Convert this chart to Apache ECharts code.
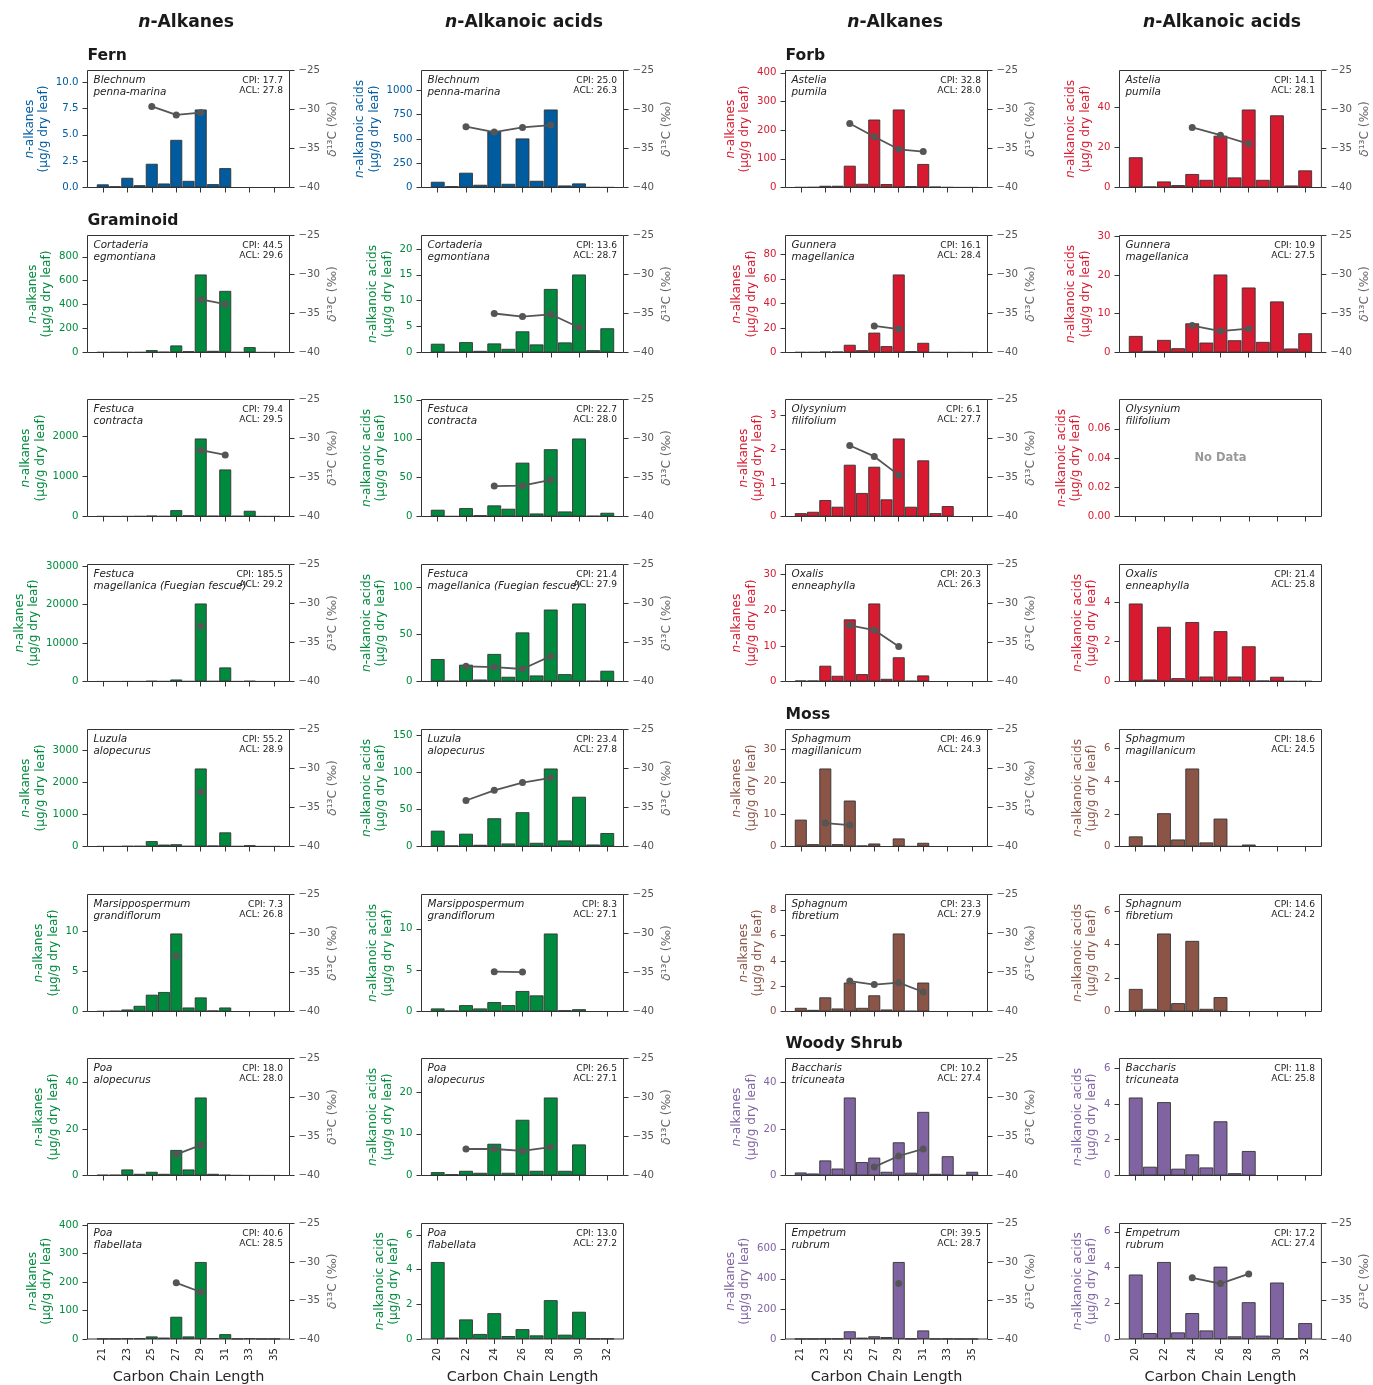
<!DOCTYPE html>
<html>
<head>
<meta charset="utf-8">
<script src="https://cdn.jsdelivr.net/npm/echarts@6/dist/echarts.min.js"></script>
<style>
  html, body { margin: 0; padding: 0; background: #fff; }
  #chart { width: 1373px; height: 1385px; }
</style>
</head>
<body>
<div id="chart"></div>
<script>
// ---------------------------------------------------------------------------
// Carbon numbers and x tick labels
// ---------------------------------------------------------------------------
const N = null;
const alkaneChains = [21, 22, 23, 24, 25, 26, 27, 28, 29, 30, 31, 32, 33, 34, 35];
const acidChains = [20, 21, 22, 23, 24, 25, 26, 27, 28, 29, 30, 31, 32];
const alkaneTickLabels = [21, 23, 25, 27, 29, 31, 33, 35];
const acidTickLabels = [20, 22, 24, 26, 28, 30, 32];

// ---------------------------------------------------------------------------
// n-alkane concentrations (µg/g dry leaf), C21..C35, and δ13C (‰)
// ---------------------------------------------------------------------------
const blechnumAlk = [0.30, 0.12, 0.92, 0.22, 2.25, 0.38, 4.52, 0.63, 7.40, 0.32, 1.84, 0, 0, 0, 0];
const blechnumAlkD13C = [N, N, N, N, -29.6, N, -30.7, N, -30.4, N, N, N, N, N, N];
const cortaderiaAlk = [3, 3, 3, 3, 20, 6, 59, 11, 652, 14, 515, 3, 45, 2, 2];
const cortaderiaAlkD13C = [N, N, N, N, N, N, N, N, -33.2, N, -33.8, N, N, N, N];
const festucaConAlk = [5, 3, 5, 8, 20, 10, 158, 30, 1935, 18, 1167, 15, 142, 5, 5];
const festucaConAlkD13C = [N, N, N, N, N, N, N, N, -31.5, N, -32.1, N, N, N, N];
const festucaMagAlk = [20, 20, 40, 30, 150, 60, 520, 80, 20300, 100, 3660, 40, 150, 20, 20];
const festucaMagAlkD13C = [N, N, N, N, N, N, N, N, -32.9, N, N, N, N, N, N];
const luzulaAlk = [5, 5, 15, 15, 167, 60, 70, 15, 2425, 30, 440, 10, 40, 5, 5];
const luzulaAlkD13C = [N, N, N, N, N, N, N, N, -33.0, N, N, N, N, N, N];
const marsipAlk = [0.04, 0.08, 0.25, 0.71, 2.10, 2.44, 9.75, 0.50, 1.76, 0.13, 0.50, 0, 0, 0, 0];
const marsipAlkD13C = [N, N, N, N, N, N, -32.9, N, N, N, N, N, N, N, N];
const poaAloAlk = [0.29, 0.29, 2.6, 0.72, 1.6, 0.72, 11.0, 2.6, 33.6, 0.72, 0.29, 0.1, 0.05, 0.05, 0.05];
const poaAloAlkD13C = [N, N, N, N, N, N, -37.3, N, -36.1, N, N, N, N, N, N];
const poaFlaAlk = [1, 1, 2, 2, 9, 5, 78, 9, 270, 3, 17, 1, 2, 0.5, 0.5];
const poaFlaAlkD13C = [N, N, N, N, N, N, -32.7, N, -33.9, N, N, N, N, N, N];
const asteliaAlk = [1, 1.5, 6, 6, 76, 13, 237, 12, 272, 5, 82, 3, 1, 0.5, 0.5];
const asteliaAlkD13C = [N, N, N, N, -31.8, N, -33.5, N, -35.1, N, -35.4, N, N, N, N];
const gunneraAlk = [0.3, 0.3, 0.8, 0.8, 6.3, 1.9, 16.2, 5.2, 63.6, 1.1, 7.9, 0.3, 0.2, 0.2, 0.2];
const gunneraAlkD13C = [N, N, N, N, N, N, -36.6, N, -37.0, N, N, N, N, N, N];
const olysyniumAlk = [0.10, 0.14, 0.49, 0.29, 1.54, 0.70, 1.48, 0.51, 2.32, 0.29, 1.67, 0.10, 0.31, 0, 0];
const olysyniumAlkD13C = [N, N, N, N, -30.9, N, -32.3, N, -34.7, N, N, N, N, N, N];
const oxalisAlk = [0.28, 0.28, 4.43, 1.6, 17.45, 2.08, 21.9, 0.75, 6.8, 0.19, 1.7, 0, 0, 0, 0];
const oxalisAlkD13C = [N, N, N, N, -32.8, N, -33.4, N, -35.5, N, N, N, N, N, N];
const sphagmumAlk = [8.3, 0.73, 24.1, 0.73, 14.2, 0.31, 0.93, 0, 2.49, 0.05, 1.14, 0, 0, 0, 0];
const sphagmumAlkD13C = [N, N, -37.0, N, -37.25, N, N, N, N, N, N, N, N, N, N];
const sphagnumAlk = [0.29, 0.13, 1.12, 0.24, 2.29, 0.29, 1.28, 0.16, 6.17, 0.05, 2.29, 0, 0, 0, 0];
const sphagnumAlkD13C = [N, N, N, N, -36.1, N, -36.55, N, -36.3, N, -37.5, N, N, N, N];
const baccharisAlk = [1.3, 0.87, 6.5, 3.0, 33.6, 5.8, 7.7, 1.6, 14.3, 1.2, 27.4, 0.72, 8.3, 0.14, 1.6];
const baccharisAlkD13C = [N, N, N, N, N, N, -38.9, N, -37.5, N, -36.6, N, N, N, N];
const empetrumAlk = [0.5, 0.5, 2, 2, 51, 9, 18, 13, 512, 2, 57, 1, 2, 0.5, 0.5];
const empetrumAlkD13C = [N, N, N, N, N, N, N, N, -32.8, N, N, N, N, N, N];

// ---------------------------------------------------------------------------
// n-alkanoic acid concentrations (µg/g dry leaf), C20..C32, and δ13C (‰)
// ---------------------------------------------------------------------------
const blechnumAcid = [59, 14, 152, 28, 578, 38, 505, 69, 803, 21, 42, 3, 2];
const blechnumAcidD13C = [N, N, -32.2, N, -32.9, N, -32.3, N, -32.0, N, N, N, N];
const cortaderiaAcid = [1.69, 0.13, 2.0, 0.32, 1.75, 0.71, 4.09, 1.56, 12.27, 1.95, 15.06, 0.45, 4.68];
const cortaderiaAcidD13C = [N, N, N, N, -35.0, N, -35.4, N, -35.1, N, -36.8, N, N];
const festucaConAcid = [8.7, 0.4, 10.8, 1.7, 14.3, 10.0, 69.3, 3.9, 86.6, 6.5, 100.4, 0.9, 4.8];
const festucaConAcidD13C = [N, N, N, N, -36.1, N, -36.05, N, -35.3, N, N, N, N];
const festucaMagAcid = [23.8, 0.7, 17.8, 2.1, 29.2, 5.0, 52.0, 6.4, 76.2, 7.8, 82.6, 0.7, 11.4];
const festucaMagAcidD13C = [N, N, -38.05, N, -38.15, N, -38.4, N, -36.75, N, N, N, N];
const luzulaAcid = [21.4, 1.4, 17.3, 2.3, 38.2, 4.1, 46.4, 5.0, 105.5, 8.2, 67.3, 2.7, 18.2];
const luzulaAcidD13C = [N, N, -34.1, N, -32.8, N, -31.8, N, -31.2, N, N, N, N];
const marsipAcid = [0.37, 0.12, 0.77, 0.37, 1.14, 0.77, 2.48, 1.95, 9.43, 0.16, 0.28, 0, 0];
const marsipAcidD13C = [N, N, N, N, -34.9, N, -34.95, N, N, N, N, N, N];
const poaAloAcid = [0.81, 0.32, 1.13, 0.65, 7.61, 0.65, 13.36, 1.13, 18.7, 1.13, 7.45, 0, 0];
const poaAloAcidD13C = [N, N, -36.6, N, -36.6, N, -36.85, N, -36.35, N, N, N, N];
const poaFlaAcid = [4.44, 0.08, 1.13, 0.29, 1.49, 0.17, 0.57, 0.21, 2.24, 0.25, 1.57, 0.02, 0.02];
const asteliaAcid = [15.0, 0.5, 3.0, 1.2, 6.7, 3.8, 25.7, 5.0, 38.7, 3.8, 35.8, 1.0, 8.5];
const asteliaAcidD13C = [N, N, N, N, -32.3, N, -33.3, N, -34.4, N, N, N, N];
const gunneraAcid = [4.27, 0.43, 3.25, 1.11, 7.52, 2.56, 20.1, 3.16, 16.75, 2.74, 13.16, 1.03, 4.96];
const gunneraAcidD13C = [N, N, N, N, -36.55, N, -37.25, N, -36.95, N, N, N, N];
const oxalisAcid = [3.92, 0.10, 2.75, 0.17, 2.99, 0.25, 2.53, 0.25, 1.77, 0.05, 0.24, 0.02, 0.02];
const sphagmumAcid = [0.62, 0.06, 2.04, 0.43, 4.78, 0.25, 1.71, 0.02, 0.12, 0, 0, 0, 0];
const sphagnumAcid = [1.35, 0.16, 4.66, 0.5, 4.22, 0.16, 0.86, 0, 0, 0, 0, 0, 0];
const baccharisAcid = [4.36, 0.49, 4.10, 0.38, 1.18, 0.45, 3.03, 0.13, 1.37, 0, 0, 0, 0];
const empetrumAcid = [3.61, 0.33, 4.31, 0.37, 1.45, 0.48, 4.05, 0.15, 2.06, 0.19, 3.16, 0.02, 0.89];
const empetrumAcidD13C = [N, N, N, N, -32.05, N, -32.8, N, -31.55, N, N, N, N];

// ---------------------------------------------------------------------------
// Left-axis tick values for each panel
// ---------------------------------------------------------------------------
const blechnumAlkTicks = [0, 2.5, 5, 7.5, 10];
const cortaderiaAlkTicks = [0, 200, 400, 600, 800];
const festucaConAlkTicks = [0, 1000, 2000];
const festucaMagAlkTicks = [0, 10000, 20000, 30000];
const luzulaAlkTicks = [0, 1000, 2000, 3000];
const marsipAlkTicks = [0, 5, 10];
const poaAloAlkTicks = [0, 20, 40];
const poaFlaAlkTicks = [0, 100, 200, 300, 400];
const blechnumAcidTicks = [0, 250, 500, 750, 1000];
const cortaderiaAcidTicks = [0, 5, 10, 15, 20];
const festucaConAcidTicks = [0, 50, 100, 150];
const festucaMagAcidTicks = [0, 50, 100];
const luzulaAcidTicks = [0, 50, 100, 150];
const marsipAcidTicks = [0, 5, 10];
const poaAloAcidTicks = [0, 10, 20];
const poaFlaAcidTicks = [0, 2, 4, 6];
const asteliaAlkTicks = [0, 100, 200, 300, 400];
const gunneraAlkTicks = [0, 20, 40, 60, 80];
const olysyniumAlkTicks = [0, 1, 2, 3];
const oxalisAlkTicks = [0, 10, 20, 30];
const sphagmumAlkTicks = [0, 10, 20, 30];
const sphagnumAlkTicks = [0, 2, 4, 6, 8];
const baccharisAlkTicks = [0, 20, 40];
const empetrumAlkTicks = [0, 200, 400, 600];
const asteliaAcidTicks = [0, 20, 40];
const gunneraAcidTicks = [0, 10, 20, 30];
const olysyniumAcidTicks = [0, 0.02, 0.04, 0.06];
const oxalisAcidTicks = [0, 2, 4];
const sphagmumAcidTicks = [0, 2, 4, 6];
const sphagnumAcidTicks = [0, 2, 4, 6];
const baccharisAcidTicks = [0, 2, 4, 6];
const empetrumAcidTicks = [0, 2, 4, 6];

// ---------------------------------------------------------------------------
// Panel table: which species, compound class and functional group
// ---------------------------------------------------------------------------
const panels = [
  // Fern / Graminoid, n-alkanes
  { col: 0, row: 0, kind: 'alk', group: 'Fern', species: 'Blechnum\npenna-marina', values: blechnumAlk, d13c: blechnumAlkD13C, ticks: blechnumAlkTicks, cpi: '17.7', acl: '27.8' },
  { col: 0, row: 1, kind: 'alk', group: 'Graminoid', species: 'Cortaderia\negmontiana', values: cortaderiaAlk, d13c: cortaderiaAlkD13C, ticks: cortaderiaAlkTicks, cpi: '44.5', acl: '29.6' },
  { col: 0, row: 2, kind: 'alk', group: 'Graminoid', species: 'Festuca\ncontracta', values: festucaConAlk, d13c: festucaConAlkD13C, ticks: festucaConAlkTicks, cpi: '79.4', acl: '29.5' },
  { col: 0, row: 3, kind: 'alk', group: 'Graminoid', species: 'Festuca\nmagellanica (Fuegian fescue)', values: festucaMagAlk, d13c: festucaMagAlkD13C, ticks: festucaMagAlkTicks, cpi: '185.5', acl: '29.2' },
  { col: 0, row: 4, kind: 'alk', group: 'Graminoid', species: 'Luzula\nalopecurus', values: luzulaAlk, d13c: luzulaAlkD13C, ticks: luzulaAlkTicks, cpi: '55.2', acl: '28.9' },
  { col: 0, row: 5, kind: 'alk', group: 'Graminoid', species: 'Marsippospermum\ngrandiflorum', values: marsipAlk, d13c: marsipAlkD13C, ticks: marsipAlkTicks, cpi: '7.3', acl: '26.8' },
  { col: 0, row: 6, kind: 'alk', group: 'Graminoid', species: 'Poa\nalopecurus', values: poaAloAlk, d13c: poaAloAlkD13C, ticks: poaAloAlkTicks, cpi: '18.0', acl: '28.0' },
  { col: 0, row: 7, kind: 'alk', group: 'Graminoid', species: 'Poa\nflabellata', values: poaFlaAlk, d13c: poaFlaAlkD13C, ticks: poaFlaAlkTicks, cpi: '40.6', acl: '28.5' },
  // Fern / Graminoid, n-alkanoic acids
  { col: 1, row: 0, kind: 'acid', group: 'Fern', species: 'Blechnum\npenna-marina', values: blechnumAcid, d13c: blechnumAcidD13C, ticks: blechnumAcidTicks, cpi: '25.0', acl: '26.3' },
  { col: 1, row: 1, kind: 'acid', group: 'Graminoid', species: 'Cortaderia\negmontiana', values: cortaderiaAcid, d13c: cortaderiaAcidD13C, ticks: cortaderiaAcidTicks, cpi: '13.6', acl: '28.7' },
  { col: 1, row: 2, kind: 'acid', group: 'Graminoid', species: 'Festuca\ncontracta', values: festucaConAcid, d13c: festucaConAcidD13C, ticks: festucaConAcidTicks, cpi: '22.7', acl: '28.0' },
  { col: 1, row: 3, kind: 'acid', group: 'Graminoid', species: 'Festuca\nmagellanica (Fuegian fescue)', values: festucaMagAcid, d13c: festucaMagAcidD13C, ticks: festucaMagAcidTicks, cpi: '21.4', acl: '27.9' },
  { col: 1, row: 4, kind: 'acid', group: 'Graminoid', species: 'Luzula\nalopecurus', values: luzulaAcid, d13c: luzulaAcidD13C, ticks: luzulaAcidTicks, cpi: '23.4', acl: '27.8' },
  { col: 1, row: 5, kind: 'acid', group: 'Graminoid', species: 'Marsippospermum\ngrandiflorum', values: marsipAcid, d13c: marsipAcidD13C, ticks: marsipAcidTicks, cpi: '8.3', acl: '27.1' },
  { col: 1, row: 6, kind: 'acid', group: 'Graminoid', species: 'Poa\nalopecurus', values: poaAloAcid, d13c: poaAloAcidD13C, ticks: poaAloAcidTicks, cpi: '26.5', acl: '27.1' },
  { col: 1, row: 7, kind: 'acid', group: 'Graminoid', species: 'Poa\nflabellata', values: poaFlaAcid, d13c: null, ticks: poaFlaAcidTicks, cpi: '13.0', acl: '27.2' },
  // Forb / Moss / Woody Shrub, n-alkanes
  { col: 2, row: 0, kind: 'alk', group: 'Forb', species: 'Astelia\npumila', values: asteliaAlk, d13c: asteliaAlkD13C, ticks: asteliaAlkTicks, cpi: '32.8', acl: '28.0' },
  { col: 2, row: 1, kind: 'alk', group: 'Forb', species: 'Gunnera\nmagellanica', values: gunneraAlk, d13c: gunneraAlkD13C, ticks: gunneraAlkTicks, cpi: '16.1', acl: '28.4' },
  { col: 2, row: 2, kind: 'alk', group: 'Forb', species: 'Olysynium\nfilifolium', values: olysyniumAlk, d13c: olysyniumAlkD13C, ticks: olysyniumAlkTicks, cpi: '6.1', acl: '27.7' },
  { col: 2, row: 3, kind: 'alk', group: 'Forb', species: 'Oxalis\nenneaphylla', values: oxalisAlk, d13c: oxalisAlkD13C, ticks: oxalisAlkTicks, cpi: '20.3', acl: '26.3' },
  { col: 2, row: 4, kind: 'alk', group: 'Moss', species: 'Sphagmum\nmagillanicum', values: sphagmumAlk, d13c: sphagmumAlkD13C, ticks: sphagmumAlkTicks, cpi: '46.9', acl: '24.3' },
  { col: 2, row: 5, kind: 'alk', group: 'Moss', species: 'Sphagnum\nfibretium', values: sphagnumAlk, d13c: sphagnumAlkD13C, ticks: sphagnumAlkTicks, cpi: '23.3', acl: '27.9' },
  { col: 2, row: 6, kind: 'alk', group: 'Woody Shrub', species: 'Baccharis\ntricuneata', values: baccharisAlk, d13c: baccharisAlkD13C, ticks: baccharisAlkTicks, cpi: '10.2', acl: '27.4' },
  { col: 2, row: 7, kind: 'alk', group: 'Woody Shrub', species: 'Empetrum\nrubrum', values: empetrumAlk, d13c: empetrumAlkD13C, ticks: empetrumAlkTicks, cpi: '39.5', acl: '28.7' },
  // Forb / Moss / Woody Shrub, n-alkanoic acids
  { col: 3, row: 0, kind: 'acid', group: 'Forb', species: 'Astelia\npumila', values: asteliaAcid, d13c: asteliaAcidD13C, ticks: asteliaAcidTicks, cpi: '14.1', acl: '28.1' },
  { col: 3, row: 1, kind: 'acid', group: 'Forb', species: 'Gunnera\nmagellanica', values: gunneraAcid, d13c: gunneraAcidD13C, ticks: gunneraAcidTicks, cpi: '10.9', acl: '27.5' },
  { col: 3, row: 2, kind: 'acid', group: 'Forb', species: 'Olysynium\nfilifolium', values: null, d13c: null, ticks: olysyniumAcidTicks, cpi: null, acl: null },
  { col: 3, row: 3, kind: 'acid', group: 'Forb', species: 'Oxalis\nenneaphylla', values: oxalisAcid, d13c: null, ticks: oxalisAcidTicks, cpi: '21.4', acl: '25.8' },
  { col: 3, row: 4, kind: 'acid', group: 'Moss', species: 'Sphagmum\nmagillanicum', values: sphagmumAcid, d13c: null, ticks: sphagmumAcidTicks, cpi: '18.6', acl: '24.5' },
  { col: 3, row: 5, kind: 'acid', group: 'Moss', species: 'Sphagnum\nfibretium', values: sphagnumAcid, d13c: null, ticks: sphagnumAcidTicks, cpi: '14.6', acl: '24.2' },
  { col: 3, row: 6, kind: 'acid', group: 'Woody Shrub', species: 'Baccharis\ntricuneata', values: baccharisAcid, d13c: null, ticks: baccharisAcidTicks, cpi: '11.8', acl: '25.8' },
  { col: 3, row: 7, kind: 'acid', group: 'Woody Shrub', species: 'Empetrum\nrubrum', values: empetrumAcid, d13c: empetrumAcidD13C, ticks: empetrumAcidTicks, cpi: '17.2', acl: '27.4' }
];

// Group headings shown above the first panel of each group
const groupHeadings = [
  { text: 'Fern', col: 0, row: 0 },
  { text: 'Graminoid', col: 0, row: 1 },
  { text: 'Forb', col: 2, row: 0 },
  { text: 'Moss', col: 2, row: 4 },
  { text: 'Woody Shrub', col: 2, row: 6 }
];
const columnHeadings = ['Alkanes', 'Alkanoic acids', 'Alkanes', 'Alkanoic acids'];

// ---------------------------------------------------------------------------
// Styling and layout
// ---------------------------------------------------------------------------
const FONT = '"DejaVu Sans", sans-serif';
const groupColors = {
  'Fern': '#005b9f',
  'Graminoid': '#008a3e',
  'Forb': '#d71a30',
  'Moss': '#8a5446',
  'Woody Shrub': '#8064a2'
};
const TICK_FS = 10.2;
const LABEL_FS = 12.2;
const LABEL_LH = 14.6;
const HEAD_FS = 17.2;
const W = 202;
const H = 117;
const colLeft = [87.5, 421.5, 785.5, 1119.5];
const colHeadX = [186, 524, 895, 1222];
const rowTop = [0, 1, 2, 3, 4, 5, 6, 7].map(r => Math.floor(70.5 + r * 164.7) + 0.5);
const xRange = { alk: [19.75, 36.25], acid: [18.85, 33.15] };

const measureCtx = document.createElement('canvas').getContext('2d');
measureCtx.font = TICK_FS + 'px ' + FONT;
function decimalsOf(ticks) {
  let d = 0;
  ticks.forEach(t => {
    const s = String(t);
    if (s.includes('.')) d = Math.max(d, s.split('.')[1].length);
  });
  return d;
}

const grids = [], xAxes = [], yAxes = [], series = [], graphics = [];

panels.forEach((p, i) => {
  const left = colLeft[p.col];
  const top = rowTop[p.row];
  const color = groupColors[p.group];
  const chains = p.kind === 'alk' ? alkaneChains : acidChains;
  const xTicks = p.kind === 'alk' ? alkaneTickLabels : acidTickLabels;
  const [xmin, xmax] = xRange[p.kind];
  const isBottom = p.row === 7;

  grids.push({
    left: left, top: top, width: W, height: H,
    show: true, borderColor: '#333', borderWidth: 1, containLabel: false
  });

  xAxes.push({
    gridIndex: i, type: 'value', min: xmin, max: xmax,
    axisLine: { show: false }, splitLine: { show: false },
    axisTick: { show: true, length: 5, customValues: xTicks, lineStyle: { color: '#333', width: 1 } },
    axisLabel: {
      show: isBottom, customValues: xTicks, rotate: 90, margin: 9,
      color: '#262626', fontSize: TICK_FS, fontFamily: FONT
    },
    name: isBottom ? 'Carbon Chain Length' : '',
    nameLocation: 'middle', nameGap: 31,
    nameTextStyle: { color: '#262626', fontSize: 14.4, fontFamily: FONT }
  });

  // left axis: concentration
  const dec = decimalsOf(p.ticks);
  const fmt = v => Number(v).toFixed(dec);
  const labelW = Math.max(...p.ticks.map(t => measureCtx.measureText(fmt(t)).width));
  const ymax = p.values ? 1.5 * Math.max(...p.values) : 0.08;
  const compound = p.kind === 'alk' ? 'alkanes' : 'alkanoic acids';
  const leftIdx = yAxes.length;
  yAxes.push({
    gridIndex: i, type: 'value', position: 'left', min: 0, max: ymax,
    axisLine: { show: false }, splitLine: { show: false },
    axisTick: { show: true, length: 5, customValues: p.ticks, lineStyle: { color: '#333', width: 1 } },
    axisLabel: { customValues: p.ticks, margin: 9, color: color, fontSize: TICK_FS, fontFamily: FONT, formatter: fmt },
    name: '{i|n}-' + compound + '\n(μg/g dry leaf)',
    nameLocation: 'middle', nameRotate: 90, nameGap: 9 + labelW + 4.5,
    nameTextStyle: {
      color: color, fontSize: LABEL_FS, fontFamily: FONT, lineHeight: LABEL_LH,
      rich: { i: { fontStyle: 'italic', color: color, fontSize: LABEL_FS, fontFamily: FONT, lineHeight: LABEL_LH } }
    }
  });

  if (p.values) {
    // bars fill each carbon-number slot; the dark outline separates neighbours
    series.push({
      type: 'bar', xAxisIndex: i, yAxisIndex: leftIdx,
      data: chains.map((c, k) => [c, p.values[k]]),
      barWidth: 0.98 * W / (xmax - xmin),
      itemStyle: { color: color, borderColor: '#333', borderWidth: 0.9 },
      silent: true, animation: false
    });
  }

  // right axis: δ13C
  if (p.d13c) {
    const rightIdx = yAxes.length;
    yAxes.push({
      gridIndex: i, type: 'value', position: 'right', min: -40, max: -25, interval: 5,
      axisLine: { show: false }, splitLine: { show: false },
      axisTick: { show: true, length: 5, lineStyle: { color: '#333', width: 1 } },
      axisLabel: {
        margin: 9, color: '#555', fontSize: TICK_FS, fontFamily: FONT,
        formatter: v => String(v).replace('-', '\u2212')
      },
      name: '{d|δ}¹³C (‰)',
      nameLocation: 'middle', nameRotate: 90, nameGap: 36,
      nameTextStyle: {
        color: '#666', fontSize: LABEL_FS, fontFamily: FONT, lineHeight: LABEL_LH,
        rich: { d: { fontStyle: 'italic', color: '#666', fontSize: LABEL_FS, fontFamily: FONT, lineHeight: LABEL_LH } }
      }
    });
    series.push({
      type: 'line', xAxisIndex: i, yAxisIndex: rightIdx,
      data: chains.map((c, k) => [c, p.d13c[k]]).filter(d => d[1] != null),
      symbol: 'circle', symbolSize: 7, showSymbol: true,
      lineStyle: { color: '#555', width: 1.8 },
      itemStyle: { color: '#555' },
      z: 5, silent: true, animation: false
    });
  }

  // species name (top left) and CPI / ACL (top right)
  graphics.push({
    type: 'text', x: left + 6, y: top + 4.4, silent: true,
    style: {
      text: p.species, fill: '#222', fontSize: 10.4, fontStyle: 'italic', fontFamily: FONT,
      lineHeight: 11.7, align: 'left', verticalAlign: 'top'
    }
  });
  if (p.cpi) {
    graphics.push({
      type: 'text', x: left + W - 6.5, y: top + 4.6, silent: true,
      style: {
        text: 'CPI: ' + p.cpi + '\nACL: ' + p.acl, fill: '#222', fontSize: 9.1, fontFamily: FONT,
        lineHeight: 10.3, align: 'right', verticalAlign: 'top'
      }
    });
  }
  if (!p.values) {
    graphics.push({
      type: 'text', x: left + W / 2, y: top + H / 2, silent: true,
      style: {
        text: 'No Data', fill: '#999', fontSize: 11.5, fontWeight: 'bold', fontFamily: FONT,
        align: 'center', verticalAlign: 'middle'
      }
    });
  }
});

// column headings
columnHeadings.forEach((t, c) => {
  graphics.push({
    type: 'text', x: colHeadX[c], y: 23, silent: true,
    style: {
      text: '{i|n}{b|-' + t + '}', fill: '#1a1a1a', align: 'center', verticalAlign: 'middle',
      fontSize: HEAD_FS, fontWeight: 'bold', fontFamily: FONT,
      rich: {
        i: { fontSize: HEAD_FS, fontWeight: 'bold', fontStyle: 'italic', fontFamily: FONT, fill: '#1a1a1a' },
        b: { fontSize: HEAD_FS, fontWeight: 'bold', fontFamily: FONT, fill: '#1a1a1a' }
      }
    }
  });
});

// functional group headings
groupHeadings.forEach(g => {
  graphics.push({
    type: 'text', x: colLeft[g.col], y: rowTop[g.row] - 15, silent: true,
    style: {
      text: g.text, fill: '#1a1a1a', fontSize: 15.6, fontWeight: 'bold', fontFamily: FONT,
      align: 'left', verticalAlign: 'middle'
    }
  });
});

const chart = echarts.init(document.getElementById('chart'), null, { renderer: 'canvas' });
chart.setOption({
  backgroundColor: '#fff',
  animation: false,
  grid: grids,
  xAxis: xAxes,
  yAxis: yAxes,
  series: series,
  graphic: graphics
});
</script>
</body>
</html>
